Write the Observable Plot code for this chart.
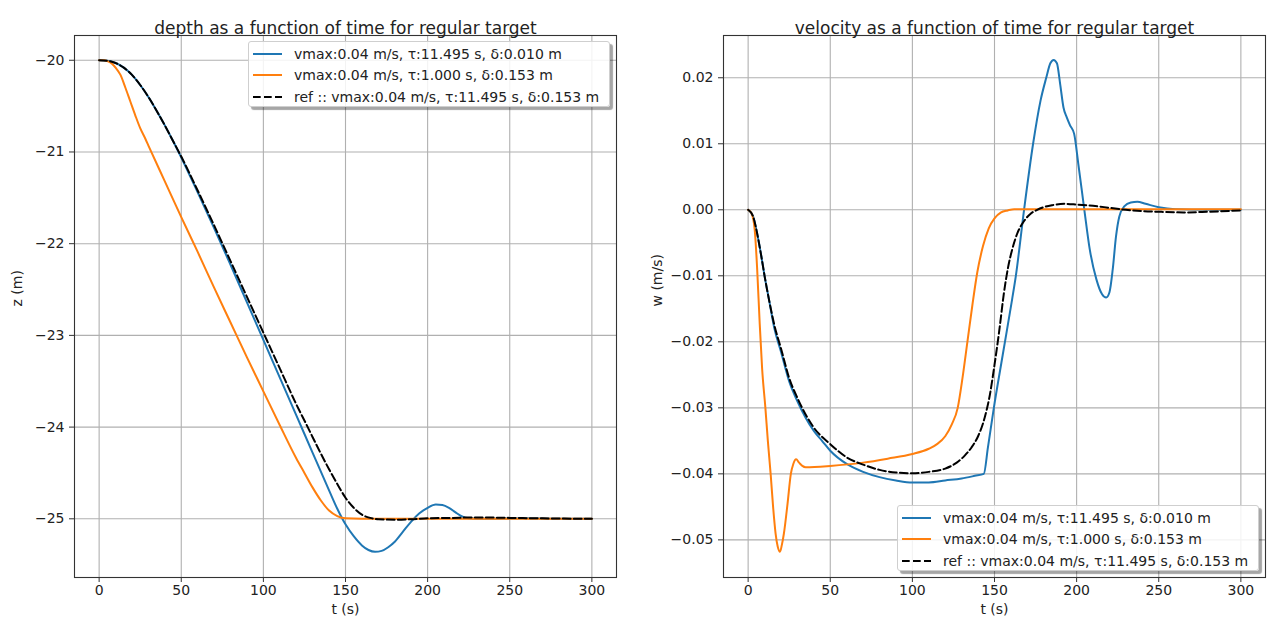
<!DOCTYPE html>
<html><head><meta charset="utf-8">
<script src="https://cdn.jsdelivr.net/npm/d3@7"></script>
<script src="https://cdn.jsdelivr.net/npm/@observablehq/plot@0.6"></script>
<style>
body{margin:0;background:#fff;font-family:"DejaVu Sans",sans-serif;}
#wrap{display:flex;width:1269px;height:624px;overflow:hidden;}
.panel{position:relative;flex:none;}
.legend{position:absolute;width:362px;height:66px;background:rgba(255,255,255,0.85);border:1px solid #cfcfcf;border-radius:3px;box-shadow:3px 3px 1px rgba(0,0,0,0.35);font-size:14px;color:#222;box-sizing:border-box;}
.row{position:absolute;left:0;height:20px;display:flex;align-items:center;white-space:nowrap;}
.row svg{margin-left:4px;margin-right:12px;}
</style>
</head><body>
<div id="wrap"><div class="panel" id="left" style="width:640px"></div><div class="panel" id="right" style="width:629px"></div></div>
<script>
// ---------- data ----------
const seriesLabels = [
  "vmax:0.04 m/s, τ:11.495 s, δ:0.010 m",
  "vmax:0.04 m/s, τ:1.000 s, δ:0.153 m",
  "ref :: vmax:0.04 m/s, τ:11.495 s, δ:0.153 m"
];
const xTicks = [0, 50, 100, 150, 200, 250, 300];
const zTicks = [-20, -21, -22, -23, -24, -25];
const wTicks = [0.02, 0.01, 0.00, -0.01, -0.02, -0.03, -0.04, -0.05];
const titles = ["depth as a function of time for regular target", "velocity as a function of time for regular target"];

// depth (z, m) vs time (s)
const tZBlue = [0,5,10,15,20,25,30,35,40,45,50,60,70,80,90,100,110,120,130,140,145,150,155,160,164,168,172,176,180,185,190,195,200,205,209,213,217,221,225,230,240,260,280,300];
const zBlue  = [-20,-20.005,-20.03,-20.08,-20.16,-20.27,-20.4,-20.55,-20.71,-20.88,-21.06,-21.44,-21.83,-22.23,-22.64,-23.05,-23.46,-23.87,-24.28,-24.69,-24.89,-25.06,-25.19,-25.29,-25.34,-25.36,-25.35,-25.31,-25.25,-25.14,-25.03,-24.94,-24.88,-24.845,-24.85,-24.88,-24.93,-24.975,-24.995,-25.0,-25.0,-24.995,-25.0,-25.0];
const tZOrange = [0,3,5,8,10,13,16,19,22,25,28,30,40,50,60,70,80,90,100,110,120,125,130,135,140,145,150,160,200,250,300];
const zOrange  = [-20,-20.0,-20.01,-20.04,-20.08,-20.16,-20.3,-20.45,-20.6,-20.74,-20.85,-20.93,-21.32,-21.71,-22.09,-22.48,-22.86,-23.24,-23.61,-23.98,-24.34,-24.5,-24.66,-24.8,-24.91,-24.97,-24.995,-25.0,-25.0,-25.0,-25.0];
const tZRef = [0,5,10,15,20,25,30,35,40,45,50,60,70,80,90,100,110,120,127,130,140,145,150,155,160,165,170,180,190,200,215,230,250,270,300];
const zRef  = [-20,-20.005,-20.03,-20.08,-20.16,-20.27,-20.4,-20.55,-20.71,-20.88,-21.05,-21.42,-21.8,-22.19,-22.58,-22.97,-23.36,-23.75,-24.0,-24.11,-24.46,-24.62,-24.77,-24.88,-24.955,-24.99,-25.005,-25.01,-25.005,-24.995,-24.99,-24.985,-24.99,-24.995,-25.0];

// velocity (w, m/s) vs time (s)
const tWBlue = [0,3,5,8,10,13,16,20,25,30,35,40,45,50,60,70,80,90,100,110,120,130,138,143.5,146,149.6,155,160.7,163,168,173.5,178,181.5,184,186,188,190,192,194,196,198.5,201,204.7,208,212,215.5,218,220,222,224,226,229,233,237,242,250,260,280,300];
const wBlue  = [0,-0.001,-0.003,-0.007,-0.010,-0.014,-0.018,-0.0215,-0.026,-0.029,-0.0315,-0.0335,-0.035,-0.0365,-0.0385,-0.0397,-0.0405,-0.041,-0.0413,-0.0413,-0.041,-0.0407,-0.0403,-0.0400,-0.036,-0.030,-0.022,-0.0136,-0.010,0.000,0.010,0.0165,0.020,0.0222,0.0227,0.0222,0.019,0.0155,0.014,0.0128,0.0115,0.007,0.000,-0.006,-0.0105,-0.0128,-0.0133,-0.0125,-0.009,-0.004,-0.001,0.0005,0.0011,0.0012,0.0009,0.0004,0.0001,0.0,0.0];
const tWOrange = [0,2,4,5.5,7,8.5,10.5,12,13.7,15.2,16.7,18,19.4,20.5,21.8,24,26,27.5,29.2,31,33,35,50,70,85,100,110,115,120,124,127.6,130.5,133.5,136.5,139.5,143,146.5,150,154,158,162,200,250,300];
const wOrange  = [0,-0.0005,-0.003,-0.009,-0.017,-0.024,-0.030,-0.035,-0.040,-0.045,-0.049,-0.051,-0.0518,-0.0508,-0.049,-0.0445,-0.040,-0.0385,-0.0378,-0.0383,-0.0388,-0.039,-0.0388,-0.0383,-0.0377,-0.037,-0.0362,-0.0355,-0.0343,-0.0325,-0.030,-0.0255,-0.020,-0.0145,-0.0095,-0.0055,-0.0028,-0.0013,-0.0004,-0.0001,0.0001,0.0001,0.0001,0.0001];
const tWRef = [0,3,5,8,10,13,16,20,25,30,35,40,50,60,70,80,90,100,110,120,127,132,136,140,144,147.2,150,152.8,155.8,158.2,161,164,168,172,176,185,193,200,210,220,230,240,250,265,280,300];
const wRef  = [0,-0.001,-0.003,-0.007,-0.010,-0.014,-0.0175,-0.021,-0.0255,-0.0285,-0.031,-0.033,-0.0355,-0.0375,-0.0386,-0.0394,-0.0398,-0.0399,-0.0397,-0.0392,-0.0383,-0.0372,-0.036,-0.0343,-0.0315,-0.028,-0.0235,-0.0185,-0.0125,-0.0088,-0.0058,-0.0035,-0.0017,-0.0006,0.0,0.0007,0.0009,0.0008,0.0006,0.0003,0.0,-0.0002,-0.0003,-0.0004,-0.0003,-0.0001];

const colors = ["#1f77b4", "#ff7f0e", "#000000"];
const dashes = [null, null, "7.7,3.3"];

// ---------- build ----------
const rows = (ts, vs) => ts.map((t, i) => ({t, v: vs[i]}));
const depthSeries = [rows(tZBlue, zBlue), rows(tZOrange, zOrange), rows(tZRef, zRef)];
const velSeries = [rows(tWBlue, wBlue), rows(tWOrange, wOrange), rows(tWRef, wRef)];

function panel({width, marginLeft, marginRight, yDomain, yTicks, yFormat, title, ylabel, ylabelDx, series}) {
  return Plot.plot({
    width, height: 624, marginTop: 35, marginBottom: 47, marginLeft, marginRight,
    style: {fontFamily: "DejaVu Sans, sans-serif", fontSize: "14px", color: "#222", background: "white", overflow: "visible"},
    x: {domain: [-15, 315]},
    y: {domain: yDomain},
    marks: [
      Plot.gridX(xTicks, {stroke: "#b0b0b0", strokeOpacity: 1, strokeWidth: 1.1}),
      Plot.gridY(yTicks, {stroke: "#b0b0b0", strokeOpacity: 1, strokeWidth: 1.1}),
      Plot.axisX(xTicks, {tickSize: 5, tickPadding: 3, tickFormat: d3.format("d"), label: null, stroke: "#333"}),
      Plot.axisY(yTicks, {tickSize: 5, tickPadding: 5, tickFormat: yFormat, label: null, stroke: "#333"}),
      ...series.map((d, i) => Plot.line(d, {x: "t", y: "v", stroke: colors[i], strokeWidth: 2, strokeDasharray: dashes[i], curve: "monotone-x"})),
      Plot.frame({stroke: "#333", strokeWidth: 1.1}),
      Plot.text([title], {frameAnchor: "top", dy: -14, fontSize: 17, fill: "#222"}),
      Plot.text(["t (s)"], {frameAnchor: "bottom", dy: 36, fill: "#222"}),
      Plot.text([ylabel], {frameAnchor: "left", rotate: -90, dx: ylabelDx, fill: "#222"})
    ]
  });
}

function legend(el, left, top) {
  const box = document.createElement("div");
  box.className = "legend";
  box.style.left = left + "px";
  box.style.top = top + "px";
  const rowTops = [1.5, 23, 44.5];
  seriesLabels.forEach((lab, i) => {
    const r = document.createElement("div");
    r.className = "row";
    r.style.top = rowTops[i] + "px";
    r.innerHTML = `<svg width="29" height="20"><line x1="0" x2="29" y1="10" y2="10" stroke="${colors[i]}" stroke-width="2" ${dashes[i] ? `stroke-dasharray="${dashes[i]}"` : ""}/></svg><span>${lab}</span>`;
    box.appendChild(r);
  });
  el.appendChild(box);
}

const leftEl = document.getElementById("left");
const rightEl = document.getElementById("right");
leftEl.appendChild(panel({width: 640, marginLeft: 74, marginRight: 24, yDomain: [-25.64, -19.73], yTicks: zTicks, yFormat: d3.format("d"), title: titles[0], ylabel: "z (m)", ylabelDx: -57, series: depthSeries}));
rightEl.appendChild(panel({width: 629, marginLeft: 83, marginRight: 4, yDomain: [-0.0557, 0.0264], yTicks: wTicks, yFormat: d3.format(".2f"), title: titles[1], ylabel: "w (m/s)", ylabelDx: -66, series: velSeries}));
legend(leftEl, 248, 41);
legend(rightEl, 257, 505);
</script>
</body></html>
